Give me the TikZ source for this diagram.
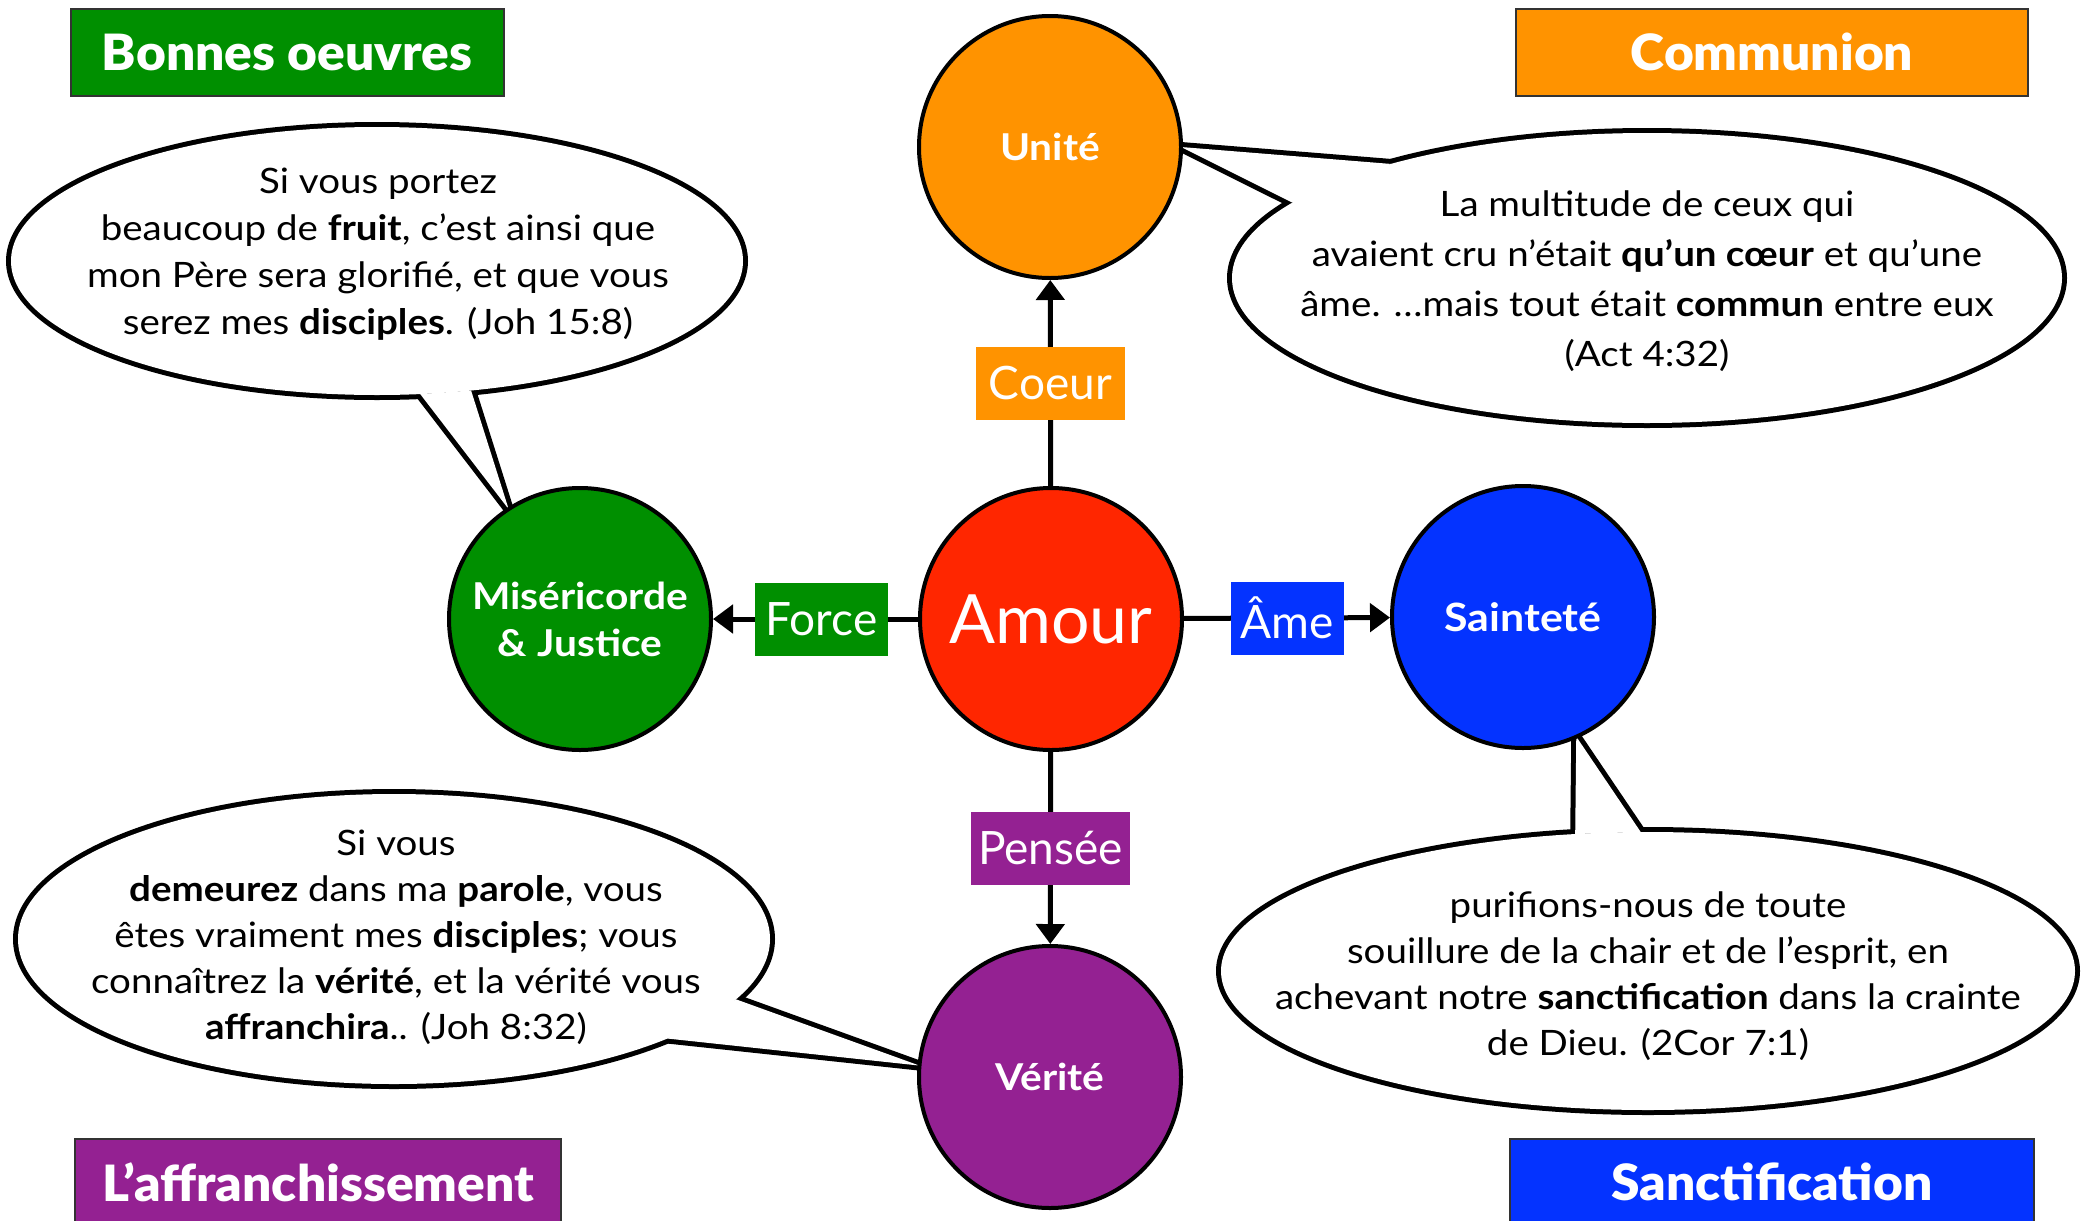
\documentclass[tikz,border=0pt]{standalone}
\usepackage{fontspec}
\setmainfont{Lato}
\newfontfamily\widefont{Lato}[FakeStretch=1.1]
\newfontfamily\heavyfont{Lato Black}[FakeStretch=1.03]
\usetikzlibrary{arrows.meta,shapes.geometric}
\definecolor{cgreen}{HTML}{008F00}
\definecolor{corange}{HTML}{FF9300}
\definecolor{cred}{HTML}{FF2600}
\definecolor{cblue}{HTML}{0433FF}
\definecolor{cpurple}{HTML}{942192}
\begin{document}
\begin{tikzpicture}[x=1pt,y=-1pt,
 circ/.style={circle, draw=black, line width=4pt, minimum size=262pt, inner sep=0pt, text=white, font=\widefont\fontsize{37}{47}\selectfont\bfseries, align=center},
 titlebox/.style={draw=black!80, line width=2pt, text=white, font=\heavyfont\fontsize{50}{56}\selectfont, minimum height=87pt, inner sep=0pt},
 labbox/.style={text=white, font=\fontsize{46}{50}\selectfont, minimum height=73pt, inner sep=0pt},
 conn/.style={line width=5pt, -{Triangle[length=20pt,width=28pt]}},
 bubble/.style={ellipse, inner sep=0pt, outer sep=0pt},
 bstroke/.style={draw=black, line width=10pt},
 tailstroke/.style={draw=black, line width=10pt, line join=miter},
 btext/.style={align=center, font=\widefont\fontsize{35}{47}\selectfont, inner sep=0pt}
]
\useasboundingbox (0,0) rectangle (2089,1221);
\fill[white] (0,0) rectangle (2089,1221);

% reference circles (not drawn) for the bubble tails
\path (1050,147) node[circle, minimum size=262pt, inner sep=0pt, outer sep=0pt] (uniteref) {};
\path (580,619) node[circle, minimum size=262pt, inner sep=0pt, outer sep=0pt] (misref) {};
\path (1523,617) node[circle, minimum size=262pt, inner sep=0pt, outer sep=0pt] (sainref) {};
\path (1050,1077) node[circle, minimum size=262pt, inner sep=0pt, outer sep=0pt] (verref) {};

% bubble 1 (top left)
\node[bubble, bstroke, minimum width=732pt, minimum height=268pt] (b1) at (377,261) {};
\draw[tailstroke] (b1.-72) -- (misref.123) -- (b1.-54);
\node[bubble, fill=white, minimum width=732pt, minimum height=268pt] (b1f) at (b1) {};
\fill[white] (b1.-72) -- (misref.123) -- (b1.-54) -- cycle;
\node[btext] (t1) at (378,254) {Si vous portez\\beaucoup de \textbf{fruit}, c’est ainsi que\\mon Père sera glorifié, et que vous\\serez mes \textbf{disciples}. (Joh 15:8)};

% bubble 2 (top right)
\node[bubble, bstroke, minimum width=830pt, minimum height=290pt] (b2) at (1647,278) {};
\draw[tailstroke] (b2.156) -- (uniteref.east) -- (b2.168);
\node[bubble, fill=white, minimum width=830pt, minimum height=290pt] (b2f) at (b2) {};
\fill[white] (b2.156) -- (uniteref.east) -- (b2.168) -- cycle;
\node[btext, font=\widefont\fontsize{35}{50}\selectfont] (t2) at (1647,281) {La multitude de ceux qui\\avaient cru n’était \textbf{qu’un cœur} et qu’une\\âme. …mais tout était \textbf{commun} entre eux\\(Act 4:32)};

% bubble 3 (bottom left)
\node[bubble, bstroke, minimum width=752pt, minimum height=290pt] (b3) at (394,939) {};
\draw[tailstroke] (b3.-10) -- (verref.175) -- (b3.-20);
\node[bubble, fill=white, minimum width=752pt, minimum height=290pt] (b3f) at (b3) {};
\fill[white] (b3.-10) -- (verref.175) -- (b3.-20) -- cycle;
\node[btext, font=\widefont\fontsize{35}{46}\selectfont] (t3) at (396,937) {Si vous\\\textbf{demeurez} dans ma \textbf{parole}, vous\\êtes vraiment mes \textbf{disciples}; vous\\connaîtrez la \textbf{vérité}, et la vérité vous\\\textbf{affranchira}.. (Joh 8:32)};

% bubble 4 (bottom right)
\node[bubble, bstroke, minimum width=854pt, minimum height=278pt] (b4) at (1648,971) {};
\draw[tailstroke] (b4.118) -- (sainref.-66) -- (b4.93);
\node[bubble, fill=white, minimum width=854pt, minimum height=278pt] (b4f) at (b4) {};
\fill[white] (b4.118) -- (sainref.-66) -- (b4.93) -- cycle;
\node[btext, font=\widefont\fontsize{35}{46}\selectfont] (t4) at (1648,976) {purifions-nous de toute\\souillure de la chair et de l’esprit, en\\achevant notre \textbf{sanctification} dans la crainte\\de Dieu. (2Cor 7:1)};

% circles
\node[circ, fill=corange] (unite) at (1050,147) {Unité};
\node[circ, fill=cred, font=\fontsize{68}{72}\selectfont] (amour) at (1051,619) {Amour};
\node[circ, fill=cgreen] (mis) at (580,619) {Miséricorde\\\& Justice};
\node[circ, fill=cblue, font=\widefont\fontsize{39}{47}\selectfont\bfseries] (saint) at (1523,617) {Sainteté};
\node[circ, fill=cpurple] (verite) at (1050,1077) {Vérité};

% connectors
\draw[conn] (amour) -- (unite) node[midway, labbox, fill=corange, minimum width=149pt] (lcoeur) {Coeur};
\draw[conn] (amour) -- (mis) node[pos=0.47, labbox, fill=cgreen, minimum width=133pt] (lforce) {Force};
\draw[conn] (amour) -- (saint) node[midway, labbox, fill=cblue, minimum width=113pt] (lame) {Âme};
\draw[conn] (amour) -- (verite) node[midway, labbox, fill=cpurple, minimum width=159pt] (lpensee) {Pensée};

% titles
\node[titlebox, fill=cgreen, minimum width=433pt] (tbo) at (287,52) {Bonnes oeuvres};
\node[titlebox, fill=corange, minimum width=512pt] (tco) at (1772,52) {Communion};
\node[titlebox, fill=cpurple, minimum width=486pt] (taf) at (318,1182) {L’affranchissement};
\node[titlebox, fill=cblue, minimum width=524pt] (tsa) at (1772,1182) {Sanctification};
\end{tikzpicture}
\end{document}
